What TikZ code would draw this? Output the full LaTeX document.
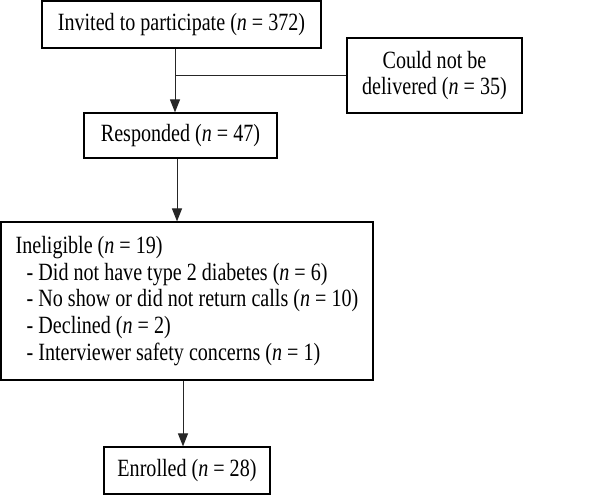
\documentclass[tikz,border=0pt]{standalone}
\usepackage{fontspec}
\setmainfont{Liberation Serif}[FakeStretch=0.81]
\usetikzlibrary{arrows.meta}

\begin{document}
\begin{tikzpicture}[x=0.5pt,y=-0.5pt,>={Triangle[length=6.5pt,width=5pt]},
 box/.style={draw,line width=0.6pt,inner sep=0pt,align=center,font=\fontsize{12.4}{13.3}\selectfont},
 link/.style={line width=0.5pt,draw=black!85}]
\useasboundingbox (0,0) rectangle (600,495);
\node[box,minimum width=139.5pt,minimum height=23.5pt] (inv) at (181.5,24.5) {Invited to participate (\textit{n} = 372)};
\node[box,minimum width=87.5pt,minimum height=37.5pt] (deliv) at (434.5,75.5) {Could not be\\delivered (\textit{n} = 35)};
\node[box,minimum width=96.5pt,minimum height=22.5pt] (resp) at (180.5,135.5) {Responded (\textit{n} = 47)};
\node[box,align=left,minimum width=186pt,minimum height=79pt] (inel) at (187,301)
 {Ineligible (\textit{n} = 19)\\
 \hspace*{5.5pt}- Did not have type 2 diabetes (\textit{n} = 6)\\
 \hspace*{5.5pt}- No show or did not return calls (\textit{n} = 10)\\
 \hspace*{5.5pt}- Declined (\textit{n} = 2)\\
 \hspace*{5.5pt}- Interviewer safety concerns (\textit{n} = 1)};
\node[box,minimum width=83pt,minimum height=23.5pt] (enr) at (187,470.5) {Enrolled (\textit{n} = 28)};
\draw[link,->] ([xshift=-3.25pt]inv.south) coordinate (a) -- (a |- resp.north);
\draw[link] (deliv.west) -- (deliv.west -| a);
\draw[link,->] ([xshift=-1.75pt]resp.south) coordinate (b) -- (b |- inel.north);
\draw[link,->] ([xshift=-2pt]inel.south) coordinate (c) -- (c |- enr.north);
\end{tikzpicture}
\end{document}
